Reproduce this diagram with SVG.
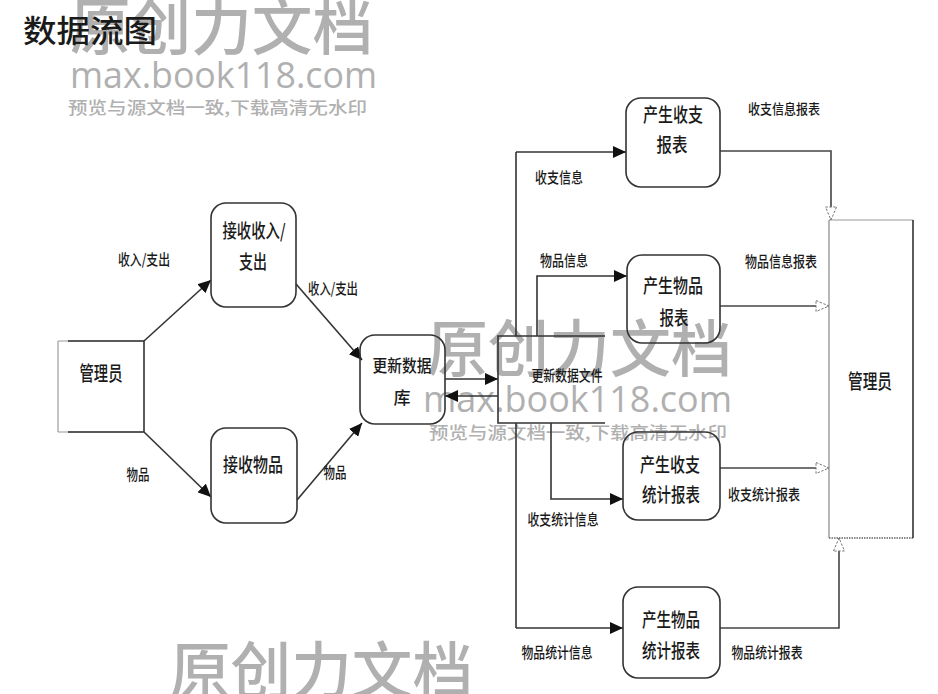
<svg xmlns="http://www.w3.org/2000/svg" width="938" height="694" viewBox="0 0 938 694">
<style>
.t{font-family:"Noto Sans CJK SC","Noto Sans",sans-serif;fill:#1a1a1a;font-weight:500;text-anchor:middle;dominant-baseline:central}
.wm{font-family:"Noto Sans CJK SC","Noto Sans",sans-serif;fill:#b0b0b0;font-weight:500;text-anchor:start}
.wl{font-family:"Open Sans","Noto Sans",sans-serif;fill:#b0b0b0;text-anchor:start}
.box{fill:none;stroke:#333;stroke-width:1.6}
.ln{fill:none;stroke:#333;stroke-width:1.6}
.fa{fill:none;stroke:#333;stroke-width:1.6;marker-end:url(#fill)}
.oa{fill:none;stroke:#444;stroke-width:1.6;marker-end:url(#open)}
</style>
<defs>
<marker id="fill" markerUnits="userSpaceOnUse" markerWidth="14" markerHeight="12" refX="13" refY="6" orient="auto" viewBox="0 0 14 12">
<path d="M0,0 L13,6 L0,12 Z" fill="#111"/>
</marker>
<marker id="open" markerUnits="userSpaceOnUse" markerWidth="16" markerHeight="14" refX="14" refY="7" orient="auto" viewBox="0 0 16 14">
<path d="M1,1.5 L14,7 L1,12.5 Z" fill="#fff" stroke="#777" stroke-width="1" stroke-dasharray="2.5,1.5"/>
</marker>
</defs>
<rect width="938" height="694" fill="#fff"/>

<g id="watermarks">
<text class="wm" x="70" y="50" font-size="62" textLength="303" lengthAdjust="spacingAndGlyphs">原创力文档</text>
<text class="wl" x="70" y="88" font-size="36" textLength="307" lengthAdjust="spacingAndGlyphs">max.book118.com</text>
<text class="wm" x="68" y="114" font-size="17" textLength="299" lengthAdjust="spacingAndGlyphs">预览与源文档一致,下载高清无水印</text>
<text class="wm" x="427" y="372" font-size="62" textLength="305" lengthAdjust="spacingAndGlyphs">原创力文档</text>
<text class="wl" x="423" y="412" font-size="36" textLength="309" lengthAdjust="spacingAndGlyphs">max.book118.com</text>
<text class="wm" x="429" y="439" font-size="17" textLength="298" lengthAdjust="spacingAndGlyphs">预览与源文档一致,下载高清无水印</text>
<text class="wm" x="170" y="694" font-size="62" textLength="303" lengthAdjust="spacingAndGlyphs">原创力文档</text>
</g>

<text class="t" x="90" y="28" font-size="31" textLength="134" lengthAdjust="spacingAndGlyphs">数据流图</text>

<g id="connectors">
<line class="fa" x1="144" y1="341" x2="211" y2="280"/>
<line class="fa" x1="144" y1="432" x2="211" y2="497"/>
<line class="fa" x1="296" y1="284" x2="362" y2="360"/>
<line class="fa" x1="297" y1="500" x2="362" y2="423"/>
<line class="fa" x1="445" y1="379" x2="498" y2="379"/>
<line class="fa" x1="498" y1="396" x2="445" y2="396"/>
<polyline class="ln" points="516,336 516,152"/>
<polyline class="fa" points="516,152 626,152"/>
<polyline class="ln" points="516,423 516,628"/>
<polyline class="fa" points="516,628 623,628"/>
<polyline class="fa" points="537,336 537,276 627,276"/>
<polyline class="fa" points="551,423 551,499 623,499"/>
<polyline class="oa" points="720,151 831,151 831,220"/>
<polyline class="oa" points="720,306 829,306"/>
<polyline class="oa" points="720,468 829,468"/>
<polyline class="oa" points="720,628 839,628 839,538"/>
<text class="t" x="144" y="258" font-size="15" textLength="52" lengthAdjust="spacingAndGlyphs">收入/支出</text>
<text class="t" x="333" y="287" font-size="15" textLength="50" lengthAdjust="spacingAndGlyphs">收入/支出</text>
<text class="t" x="138" y="473" font-size="15" textLength="23" lengthAdjust="spacingAndGlyphs">物品</text>
<text class="t" x="335" y="471" font-size="15" textLength="23" lengthAdjust="spacingAndGlyphs">物品</text>
<text class="t" x="559" y="176" font-size="15" textLength="48" lengthAdjust="spacingAndGlyphs">收支信息</text>
<text class="t" x="564" y="259" font-size="15" textLength="48" lengthAdjust="spacingAndGlyphs">物品信息</text>
<text class="t" x="784" y="108" font-size="14" textLength="72" lengthAdjust="spacingAndGlyphs">收支信息报表</text>
<text class="t" x="781" y="260" font-size="15" textLength="72" lengthAdjust="spacingAndGlyphs">物品信息报表</text>
<text class="t" x="764" y="493" font-size="15" textLength="72" lengthAdjust="spacingAndGlyphs">收支统计报表</text>
<text class="t" x="563" y="518" font-size="15" textLength="71" lengthAdjust="spacingAndGlyphs">收支统计信息</text>
<text class="t" x="557" y="651" font-size="15" textLength="71" lengthAdjust="spacingAndGlyphs">物品统计信息</text>
<text class="t" x="767" y="651" font-size="15" textLength="71" lengthAdjust="spacingAndGlyphs">物品统计报表</text>
</g>

<g id="admin-left">
<line x1="58" y1="341" x2="58" y2="432" stroke="#888" stroke-width="1"/>
<line x1="58" y1="341" x2="144" y2="341" stroke="#999" stroke-width="1"/>
<line x1="58" y1="432" x2="144" y2="432" stroke="#999" stroke-width="1"/>
<polyline class="ln" points="68,341 144,341 144,432 68,432"/>
<text class="t" x="101" y="372" font-size="20" textLength="43" lengthAdjust="spacingAndGlyphs">管理员</text>
</g>

<g id="recv-money">
<rect class="box" x="211" y="203" width="85" height="104" rx="15"/>
<text class="t" x="254" y="229" font-size="19" textLength="63" lengthAdjust="spacingAndGlyphs">接收收入/</text>
<text class="t" x="253" y="260" font-size="19" textLength="28" lengthAdjust="spacingAndGlyphs">支出</text>
</g>

<g id="recv-goods">
<rect class="box" x="211" y="428" width="86" height="95" rx="15"/>
<text class="t" x="253" y="463" font-size="19" textLength="60" lengthAdjust="spacingAndGlyphs">接收物品</text>
</g>

<g id="update-db">
<rect class="box" x="360" y="335" width="85" height="89" rx="15"/>
<text class="t" x="402" y="364" font-size="17" textLength="59" lengthAdjust="spacingAndGlyphs">更新数据</text>
<text class="t" x="402" y="396" font-size="17">库</text>
</g>

<g id="data-file">
<polyline class="ln" points="605,336 498,336 498,423 605,423"/>
<text class="t" x="567" y="374" font-size="15" textLength="71" lengthAdjust="spacingAndGlyphs">更新数据文件</text>
</g>

<g id="gen-money-report">
<rect class="box" x="626" y="98" width="94" height="89" rx="15"/>
<text class="t" x="673" y="113" font-size="19" textLength="60" lengthAdjust="spacingAndGlyphs">产生收支</text>
<text class="t" x="672" y="143" font-size="19" textLength="31" lengthAdjust="spacingAndGlyphs">报表</text>
</g>

<g id="gen-goods-report">
<rect class="box" x="627" y="255" width="93" height="88" rx="15"/>
<text class="t" x="673" y="284" font-size="19" textLength="60" lengthAdjust="spacingAndGlyphs">产生物品</text>
<text class="t" x="674" y="316" font-size="19" textLength="29" lengthAdjust="spacingAndGlyphs">报表</text>
</g>

<g id="gen-money-stat">
<rect class="box" x="623" y="432" width="97" height="88" rx="15"/>
<text class="t" x="670" y="463" font-size="19" textLength="60" lengthAdjust="spacingAndGlyphs">产生收支</text>
<text class="t" x="671" y="493" font-size="19" textLength="58" lengthAdjust="spacingAndGlyphs">统计报表</text>
</g>

<g id="gen-goods-stat">
<rect class="box" x="623" y="587" width="97" height="91" rx="15"/>
<text class="t" x="671" y="618" font-size="19" textLength="58" lengthAdjust="spacingAndGlyphs">产生物品</text>
<text class="t" x="671" y="649" font-size="19" textLength="58" lengthAdjust="spacingAndGlyphs">统计报表</text>
</g>

<g id="admin-right">
<line x1="829" y1="220" x2="913" y2="220" stroke="#999" stroke-width="1"/>
<line x1="829" y1="220" x2="829" y2="538" stroke="#888" stroke-width="1.2"/>
<line x1="829" y1="538" x2="913" y2="538" stroke="#666" stroke-width="1.5" stroke-dasharray="1.5,1"/>
<line x1="913" y1="220" x2="913" y2="538" stroke="#333" stroke-width="1.6"/>
<text class="t" x="870" y="380" font-size="20" textLength="44" lengthAdjust="spacingAndGlyphs">管理员</text>
</g>
</svg>
